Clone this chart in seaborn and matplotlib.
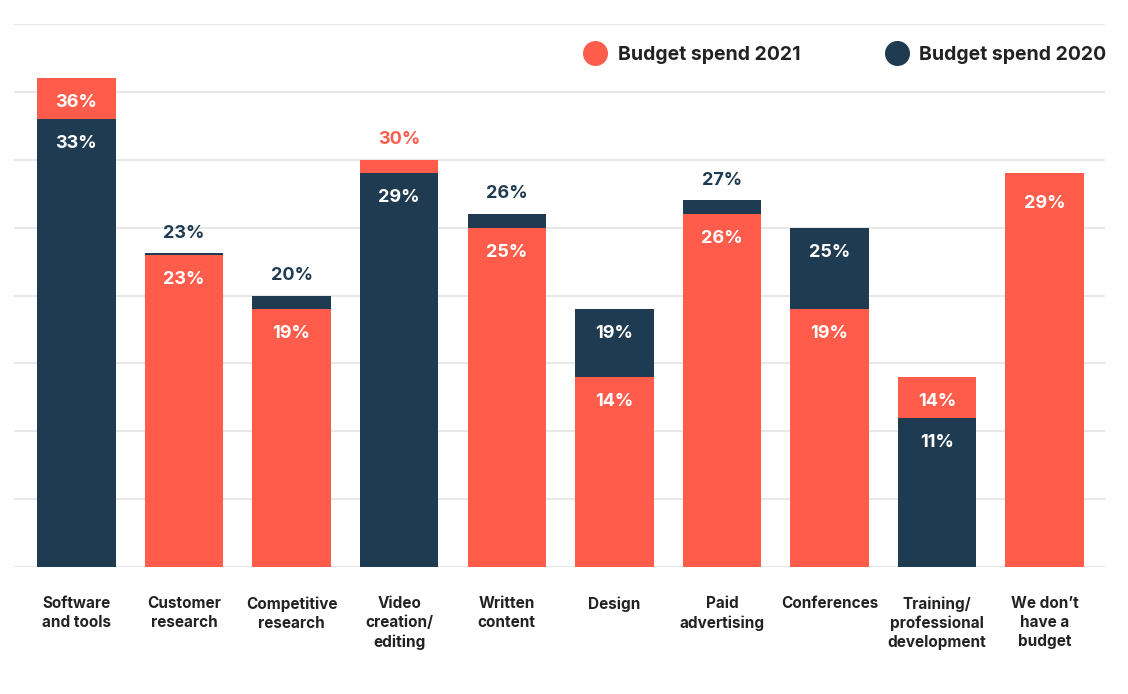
import numpy as np
import pandas as pd
import matplotlib
matplotlib.use("Agg")
import matplotlib.pyplot as plt
from matplotlib.lines import Line2D
import seaborn as sns

categories = ["Software\nand tools", "Customer\nresearch", "Competitive\nresearch",
              "Video\ncreation/\nediting", "Written\ncontent", "Design",
              "Paid\nadvertising", "Conferences", "Training/\nprofessional\ndevelopment",
              "We don’t\nhave a\nbudget"]
spend_2021 = [36, 23, 19, 30, 25, 14, 26, 19, 14, 29]
spend_2020 = [33, 23.1, 20, 29, 26, 19, 27, 25, 11, np.nan]
series_names = ["Budget spend 2021", "Budget spend 2020"]

RED = "#FF5C4B"
NAVY = "#1F3B51"
TEXT = "#222222"

sns.set_theme(style="white")
plt.rcParams["font.family"] = ["Inter", "DejaVu Sans"]

rows = []
for c, v in zip(categories, spend_2021):
    rows.append({"category": c, "value": v, "series": series_names[0]})
for c, v in zip(categories, spend_2020):
    if not np.isnan(v):
        rows.append({"category": c, "value": v, "series": series_names[1]})
df = pd.DataFrame(rows)

W, H = 1128, 694
fig = plt.figure(figsize=(W / 100, H / 100), dpi=100)
ax = fig.add_axes([14 / W, 1 - 567 / H, (1105 - 14) / W, (567 - 24) / H])

sns.barplot(data=df, x="category", y="value", hue="series", order=categories,
            hue_order=series_names, palette=[RED, NAVY], dodge=False, width=0.73,
            saturation=1, errorbar=None, legend=False, ax=ax)

# smaller bar drawn in front of the larger one
for bar in ax.patches:
    i = int(round(bar.get_x() + bar.get_width() / 2))
    a = spend_2021[i]
    b = spend_2020[i]
    h = bar.get_height()
    others = [v for v in (a, b) if not np.isnan(v)]
    if h < max(others) or len(others) == 1:
        bar.set_zorder(3)
    else:
        bar.set_zorder(2)
    bar.set_linewidth(0)

ax.set_xlim(-0.58, 9.56)
ax.set_ylim(0, 40)
ax.set_yticks(np.arange(0, 41, 5))
ax.set_yticklabels([])
ax.yaxis.grid(True, color="#e8e8e8", lw=1.5)
ax.set_axisbelow(True)
for s in ax.spines.values():
    s.set_visible(False)
ax.set_xlabel("")
ax.set_ylabel("")
ax.tick_params(axis="x", length=0, pad=21)
ax.tick_params(axis="y", length=0)
for t in ax.get_xticklabels():
    t.set_fontsize(11)
    t.set_fontweight("bold")
    t.set_color(TEXT)
    t.set_linespacing(1.33)

# value labels
inside_off = 1.8
above_off = 1.5
for i in range(len(categories)):
    a = spend_2021[i]
    b = spend_2020[i]
    vals = [(a, RED)]
    if not np.isnan(b):
        vals.append((b, NAVY))
    if len(vals) == 1:
        ax.text(i, a - 2.2, f"{round(a)}%", ha="center", va="center",
                color="white", fontsize=13, fontweight="bold", zorder=5)
        continue
    vals.sort(key=lambda t: t[0])
    (fv, fc), (bv, bc) = vals
    ax.text(i, fv - inside_off, f"{round(fv)}%", ha="center", va="center",
            color="white", fontsize=13, fontweight="bold", zorder=5)
    if bv - fv >= 3:
        ax.text(i, bv - inside_off, f"{round(bv)}%", ha="center", va="center",
                color="white", fontsize=13, fontweight="bold", zorder=5)
    else:
        ax.text(i, bv + above_off, f"{round(bv)}%", ha="center", va="center",
                color=bc, fontsize=13, fontweight="bold", zorder=5)

handles = [Line2D([], [], marker="o", ls="", markersize=17, color=RED, label=series_names[0]),
           Line2D([], [], marker="o", ls="", markersize=17, color=NAVY, label=series_names[1])]
leg = fig.legend(handles=handles, loc="center right", bbox_to_anchor=(1106 / W, 1 - 55 / H),
                 ncol=2, frameon=False, prop={"size": 14, "weight": "bold"},
                 columnspacing=4.3, handletextpad=0.5, handlelength=1.3,
                 borderaxespad=0, borderpad=0)
for t in leg.get_texts():
    t.set_color(TEXT)

fig.savefig("out.png", dpi=100, facecolor="white")
